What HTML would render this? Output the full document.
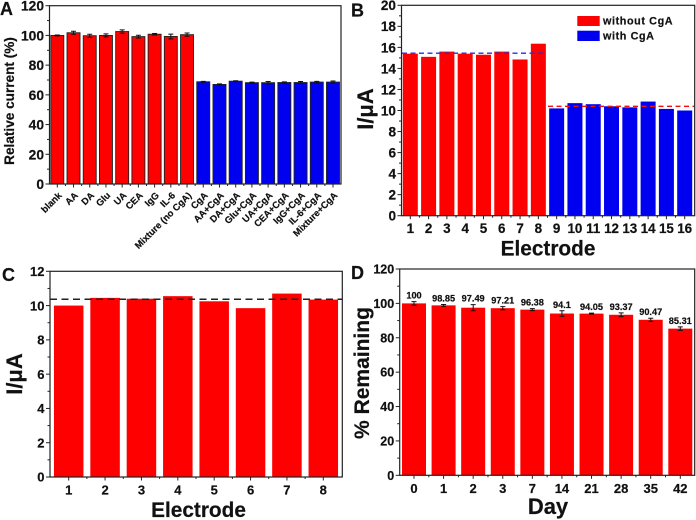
<!DOCTYPE html>
<html lang="en">
<head>
<meta charset="utf-8">
<title>Electrode selectivity, reproducibility and stability charts</title>
<style>
html,body{margin:0;padding:0;background:#fff;width:696px;height:520px;overflow:hidden}
svg{display:block;font-family:"Liberation Sans",Arial,sans-serif;font-weight:bold;fill:#111;filter:blur(0.35px)}
text{stroke:#111;stroke-width:0.2px}
</style>
</head>
<body>
<svg id="figure" width="696" height="520" viewBox="0 0 696 520" xmlns="http://www.w3.org/2000/svg"></svg>
<script>
const aCategories = ["blank","AA","DA","Glu","UA","CEA","IgG","IL-6","Mixture (no CgA)","CgA","AA+CgA","DA+CgA","Glu+CgA","UA+CgA","CEA+CgA","IgG+CgA","IL-6+CgA","Mixture+CgA"];
const aValues = [100,101.8,99.8,100,102.6,99.2,100.8,99.3,100.5,68.8,67,69.2,68.2,68.2,68.3,68.3,68.6,68.6];
const aErrors = [0.3,1,1,1,1.1,0.9,0.5,1.6,1.1,0.3,0.4,0.3,0.4,0.8,0.4,0.7,0.5,0.7];
const aTicks = [0,20,40,60,80,100,120];

const bCategories = ["1","2","3","4","5","6","7","8","9","10","11","12","13","14","15","16"];
const bValues = [15.4,15.1,15.6,15.4,15.3,15.6,14.85,16.35,10.2,10.7,10.6,10.4,10.3,10.85,10.15,10];
const bTicks = [0,2,4,6,8,10,12,14,16,18,20];
const bMeanWithout = [15.45];
const bMeanWith = [10.4];

const cCategories = ["1","2","3","4","5","6","7","8"];
const cValues = [10,10.45,10.4,10.55,10.25,9.85,10.7,10.35];
const cTicks = [0,2,4,6,8,10,12];
const cMean = [10.37];

const dCategories = ["0","1","2","3","7","14","21","28","35","42"];
const dValues = [100,98.85,97.49,97.21,96.38,94.1,94.05,93.37,90.47,85.31];
const dErrors = [1,0.5,1.8,0.9,0.6,1.6,0.3,1.1,0.9,1];
const dPrinted = ["100","98.85","97.49","97.21","96.38","94.1","94.05","93.37","90.47","85.31"];
const dTicks = [0,20,40,60,80,100,120];

const svg = document.getElementById('figure');
const NS = 'http://www.w3.org/2000/svg';
const RED = '#fe0000';
const BLUE = '#0000f0';

function mk(tag, attrs, parent, txt) {
  const el = document.createElementNS(NS, tag);
  for (const k in attrs) el.setAttribute(k, attrs[k]);
  if (txt !== undefined) el.textContent = txt;
  parent.appendChild(el);
  return el;
}

function panel(o) {
  const g = mk('g', {}, svg);
  
  

  const n = o.categories.length;
  const ymax = o.ticks[o.ticks.length - 1];
  const yScale = v => o.bottom - (v / ymax) * (o.bottom - o.top);
  const xScale = i => o.first + i * (o.last - o.first) / (n - 1);

  o.values.forEach((v, i) => {
    const x = xScale(i);
    const bar = mk('rect', {
      x: x - o.barW / 2, y: yScale(v), width: o.barW, height: o.bottom - yScale(v),
      fill: o.color(i), stroke: o.barStroke || 'none', 'stroke-width': o.barStroke ? 0.9 : 0
    }, g);
    
    

    if (o.errors) {
      const e = o.errors[i];
      const err = mk('path', {
        d: 'M' + x + ' ' + yScale(v + e) + 'V' + yScale(v - e) +
           'M' + (x - 2.5) + ' ' + yScale(v + e) + 'h5' +
           'M' + (x - 2.5) + ' ' + yScale(v - e) + 'h5',
        stroke: '#111', 'stroke-width': 1, fill: 'none'
      }, g);
      
      
    }

    if (o.printed) {
      const lab = mk('text', {
        x: x, y: yScale(v + dErrors[i]) - 3, 'text-anchor': 'middle', 'font-size': 9.2
      }, g, o.printed[i]);
      
      
    }

    const tick = mk('line', {
      x1: x, x2: x, y1: o.bottom, y2: o.bottom + 3.5, stroke: '#222', 'stroke-width': 1
    }, g);
    
    

    let xl;
    if (o.rotate) {
      const tx = x + 5, ty = o.bottom + 12;
      xl = mk('text', {
        x: tx, y: ty, 'text-anchor': 'end', 'font-size': o.xFont,
        transform: 'rotate(-45 ' + tx + ' ' + ty + ')'
      }, g, o.categories[i]);
    } else {
      xl = mk('text', {
        x: x, y: o.bottom + o.xLabelDy, 'text-anchor': 'middle', 'font-size': o.xFont
      }, g, o.categories[i]);
    }
    
    

    if (i < n - 1) {
      const minor = mk('line', {
        x1: x + (xScale(i + 1) - x) / 2, x2: x + (xScale(i + 1) - x) / 2,
        y1: o.bottom, y2: o.bottom + 2, stroke: '#222', 'stroke-width': 1
      }, g);
      
      
    }
  });

  o.ticks.forEach((t, i) => {
    const y = yScale(t);
    const tick = mk('line', {
      x1: o.left - 4, x2: o.left, y1: y, y2: y, stroke: '#222', 'stroke-width': 1
    }, g);
    
    

    const yl = mk('text', {
      x: o.left - 5.5, y: y + o.yFont * 0.36, 'text-anchor': 'end', 'font-size': o.yFont
    }, g, String(t));
    
    

    if (i < o.ticks.length - 1) {
      const my = (y + yScale(o.ticks[i + 1])) / 2;
      const minor = mk('line', {
        x1: o.left - 2.5, x2: o.left, y1: my, y2: my, stroke: '#222', 'stroke-width': 1
      }, g);
      
      
    }
  });

  (o.means || []).forEach((m, i) => {
    const mean = mk('line', {
      x1: m.x1, x2: m.x2, y1: yScale(m.values[0]), y2: yScale(m.values[0]),
      stroke: m.color, 'stroke-width': 1.4, 'stroke-dasharray': m.dash
    }, g);
    
    
  });

  const frame = mk('rect', {
    x: o.left, y: o.top, width: o.right - o.left, height: o.bottom - o.top,
    fill: 'none', stroke: '#222', 'stroke-width': 1.2
  }, g);
  
  

  const yt = mk('text', {
    x: o.yTitleX, y: o.yTitleY, 'text-anchor': 'middle', 'font-size': o.yTitleFont,
    transform: 'rotate(-90 ' + o.yTitleX + ' ' + o.yTitleY + ')'
  }, g, o.yTitle);
  
  

  if (o.xTitle) {
    const xt = mk('text', {
      x: o.xTitleX, y: o.xTitleY, 'text-anchor': 'middle', 'font-size': o.xTitleFont
    }, g, o.xTitle);
    
    
  }

  const letter = mk('text', {
    x: o.letterX, y: o.letterY, 'font-size': 18
  }, g, o.letter);
  
  
}

panel({
  id: 'a', letter: 'A', letterX: 0, letterY: 15,
  left: 49.5, right: 341, top: 5.7, bottom: 184,
  first: 57.3, last: 333, barW: 13,
  categories: aCategories, values: aValues, errors: aErrors, ticks: aTicks,
  color: i => i < 9 ? RED : BLUE, barStroke: '#222',
  rotate: true, xFont: 9.4, yFont: 13.8,
  yTitle: 'Relative current (%)', yTitleX: 14, yTitleY: 101, yTitleFont: 13.6
});

panel({
  id: 'b', letter: 'B', letterX: 351, letterY: 16.5,
  left: 401.5, right: 694.7, top: 5.3, bottom: 215.7,
  first: 410.3, last: 684.7, barW: 15,
  categories: bCategories, values: bValues, ticks: bTicks,
  color: i => i < 8 ? RED : BLUE,
  xFont: 13.4, xLabelDy: 17.5, yFont: 13.6,
  yTitle: 'I/\u03bcA', yTitleX: 373, yTitleY: 109, yTitleFont: 22,
  xTitle: 'Electrode', xTitleFont: 20.8, xTitleX: 548, xTitleY: 255.5,
  means: [
    { values: bMeanWithout, x1: 402, x2: 546, color: '#2030e0', dash: '5 3.5' },
    { values: bMeanWith, x1: 548, x2: 694, color: '#f01010', dash: '5 3.5' }
  ]
});

panel({
  id: 'c', letter: 'C', letterX: 2, letterY: 281,
  left: 50, right: 342.3, top: 271.3, bottom: 477,
  first: 68.7, last: 323.3, barW: 29.5,
  categories: cCategories, values: cValues, ticks: cTicks,
  color: () => RED,
  xFont: 13, xLabelDy: 17.5, yFont: 13,
  yTitle: 'I/\u03bcA', yTitleX: 22, yTitleY: 374, yTitleFont: 22,
  xTitle: 'Electrode', xTitleFont: 20.8, xTitleX: 198.5, xTitleY: 517,
  means: [
    { values: cMean, x1: 50, x2: 342, color: '#222', dash: '7 4.5' }
  ]
});

panel({
  id: 'd', letter: 'D', letterX: 351, letterY: 279,
  left: 399.7, right: 694.7, top: 269, bottom: 475.3,
  first: 414, last: 680.3, barW: 24,
  categories: dCategories, values: dValues, errors: dErrors, printed: dPrinted, ticks: dTicks,
  color: () => RED,
  xFont: 13, xLabelDy: 17.5, yFont: 12.5,
  yTitle: '% Remaining', yTitleX: 369, yTitleY: 373, yTitleFont: 21,
  xTitle: 'Day', xTitleFont: 22, xTitleX: 548, xTitleY: 514
});

const legend = mk('g', {}, svg);



const sw1 = mk('rect', { x: 577.3, y: 16, width: 22.4, height: 10, fill: RED }, legend);


const lt1 = mk('text', { x: 603, y: 24.5, 'font-size': 10.8, 'letter-spacing': 0.6 }, legend, 'without CgA');


const sw2 = mk('rect', { x: 577.3, y: 30.7, width: 22.4, height: 10.3, fill: BLUE }, legend);


const lt2 = mk('text', { x: 603, y: 39.5, 'font-size': 10.8, 'letter-spacing': 0.6 }, legend, 'with CgA');


</script>
</body>
</html>
